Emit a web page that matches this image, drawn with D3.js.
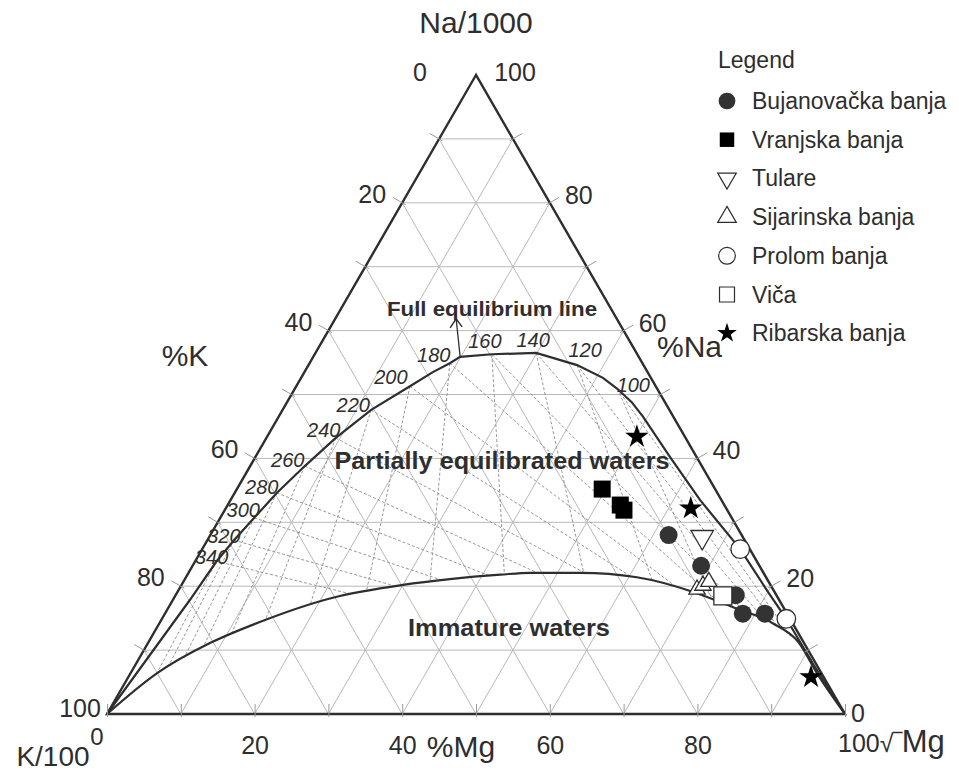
<!DOCTYPE html>
<html>
<head>
<meta charset="utf-8">
<script src="https://cdn.jsdelivr.net/npm/d3@7"></script>
<style>
    body { margin: 0; background: #fff; }
    svg { display: block; font-family: "Liberation Sans", Arial, sans-serif; }
</style>
</head>
<body>
<svg width="959" height="773"></svg>
<script>
// all points are [Na/1000 %, K/100 %, sqrt(Mg) %]
const fullEquilibrium = [
    [0, 100, 0], [17.8, 79.9, 2.3], [23.9, 73.2, 2.9], [27.2, 69.2, 3.6], [30.7, 64.7, 4.6],
    [34.6, 59.7, 5.7], [38.8, 53.8, 7.4], [43.2, 47.4, 9.4], [47.6, 40.4, 12.0], [51.3, 33.3, 15.4],
    [53.5, 29.1, 17.4], [54.9, 26.1, 19.0], [55.9, 24.2, 19.9], [56.3, 19.7, 24.0], [56.5, 13.6, 29.9],
    [54.6, 9.0, 36.4], [52.6, 6.5, 40.9], [50.9, 5.4, 43.7], [48.8, 4.5, 46.7], [46.5, 4.1, 49.4],
    [40.2, 3.6, 56.2], [33.5, 2.9, 63.6], [25.8, 1.3, 72.9], [19.4, 0.9, 79.7], [14.9, 0.5, 84.6],
    [7.7, 0.4, 91.9], [0, 0, 100]
];
const immature = [
    [0, 100, 0], [6.4, 90.0, 3.6], [11.1, 80.5, 8.4], [14.4, 72.1, 13.5], [18.2, 60.3, 21.5],
    [20.2, 49.8, 30.0], [21.1, 43.0, 35.9], [21.8, 35.8, 42.4], [22.1, 31.6, 46.3], [22.1, 24.8, 53.1],
    [21.4, 17.5, 61.1], [19.1, 11.0, 69.9], [16.7, 6.8, 76.5], [14.2, 2.7, 83.1], [11.3, 0.7, 88.0],
    [6.0, 0.6, 93.4], [0, 0, 100]
];
// temperature (°C) and its point on the full equilibrium line
const isotherms = [
    [100, 50.9, 5.4, 43.7], [120, 54.6, 9.0, 36.4], [140, 56.5, 13.6, 29.9], [160, 56.3, 19.7, 24.0],
    [180, 54.9, 26.1, 19.0], [200, 51.3, 33.3, 15.4], [220, 47.6, 40.4, 12.0], [240, 43.2, 47.4, 9.4],
    [260, 38.8, 53.8, 7.4], [280, 34.6, 59.7, 5.7], [300, 30.7, 64.7, 4.6], [320, 27.2, 69.2, 3.6],
    [340, 23.9, 73.2, 2.9]
];

const bujanovacka = [[28.0, 9.9, 62.1], [23.2, 7.9, 68.9], [18.6, 5.5, 75.9], [15.7, 6.0, 78.3], [15.7, 3.0, 81.3]];
const vranjska = [[35.2, 15.3, 49.5], [32.7, 14.1, 53.2], [31.9, 14.0, 54.1]];
const tulare = [[27.7, 5.5, 66.8]];
const sijarinska = [[19.5, 10.3, 70.2], [20.1, 9.2, 70.7], [20.7, 8.1, 71.2]];
const prolom = [[25.8, 1.3, 72.9], [14.9, 0.5, 84.6]];
const vica = [[18.5, 7.3, 74.2]];
const ribarska = [[43.4, 6.5, 50.1], [32.2, 4.8, 63.0], [5.8, 1.7, 92.5]];

const legendNames = ['Bujanovačka banja', 'Vranjska banja', 'Tulare', 'Sijarinska banja', 'Prolom banja', 'Viča', 'Ribarska banja'];
const kTicks = [0, 20, 40, 60, 80, 100];
const naTicks = [100, 80, 60, 40, 20, 0];
const mgTicks = [20, 40, 60, 80];

const svg = d3.select('svg');
const ink = '#2e2e2e';

const mgScale = d3.scaleLinear().domain([0, 100]).range([107, 845]);
const naScale = d3.scaleLinear().domain([0, 100]).range([714, 75]);
const project = d => [mgScale(d[2] + d[0] / 2), naScale(d[0])];

const apex = project([100, 0, 0]);
const kCorner = project([0, 100, 0]);
const mgCorner = project([0, 0, 100]);

const g = svg.append('g');

// grid every 10 %
const steps = d3.range(10, 100, 10);
const gridLines = [];
steps.forEach(v => {
    gridLines.push([[v, 100 - v, 0], [v, 0, 100 - v]]);
    gridLines.push([[0, 100 - v, v], [100 - v, 0, v]]);
    gridLines.push([[100 - v, v, 0], [0, v, 100 - v]]);
});
g.selectAll('line.grid')
    .data(gridLines)
    .enter().append('line')
    .attr('x1', d => project(d[0])[0]).attr('y1', d => project(d[0])[1])
    .attr('x2', d => project(d[1])[0]).attr('y2', d => project(d[1])[1])
    .attr('stroke', '#b8b8b8')
    .attr('stroke-width', 1);

// isotherm dashes, ending on the immature line
const immaturePx = immature.map(project);
const firstHit = (p, q, poly) => {
    let best = 1, hit = q;
    for (let i = 0; i < poly.length - 1; i++) {
        const a = poly[i], b = poly[i + 1];
        const rx = q[0] - p[0], ry = q[1] - p[1], sx = b[0] - a[0], sy = b[1] - a[1];
        const den = rx * sy - ry * sx;
        if (Math.abs(den) < 1e-9) continue;
        const t = ((a[0] - p[0]) * sy - (a[1] - p[1]) * sx) / den;
        const u = ((a[0] - p[0]) * ry - (a[1] - p[1]) * rx) / den;
        if (t > 1e-3 && t <= best && u >= 0 && u <= 1) {
            best = t;
            hit = [p[0] + t * rx, p[1] + t * ry];
        }
    }
    return hit;
};
const dashes = [];
isotherms.forEach(d => {
    const p = project(d.slice(1));
    dashes.push([p, firstHit(p, mgCorner, immaturePx)]);
    const far = [p[0] + (p[0] - apex[0]) * 3, p[1] + (p[1] - apex[1]) * 3];
    dashes.push([p, firstHit(p, far, immaturePx)]);
});
g.selectAll('line.dash')
    .data(dashes)
    .enter().append('line')
    .attr('x1', d => d[0][0]).attr('y1', d => d[0][1])
    .attr('x2', d => d[1][0]).attr('y2', d => d[1][1])
    .attr('stroke', '#8c8c8c')
    .attr('stroke-width', 0.9)
    .attr('stroke-dasharray', '3,2');

// curves
g.append('path')
    .attr('d', d3.line().curve(d3.curveMonotoneX)(immaturePx))
    .attr('fill', 'none').attr('stroke', ink).attr('stroke-width', 2.2);
g.append('path')
    .attr('d', d3.line()(fullEquilibrium.map(project)))
    .attr('fill', 'none').attr('stroke', ink).attr('stroke-width', 2.2);

// triangle
g.append('path')
    .attr('d', d3.line()([apex, kCorner, mgCorner]) + 'Z')
    .attr('fill', 'none').attr('stroke', ink).attr('stroke-width', 2.4)
    .attr('stroke-linejoin', 'miter');

// side ticks
const sideTicks = [];
steps.forEach(v => {
    sideTicks.push({ p: project([100 - v, v, 0]), n: [-0.866, -0.5] });
    sideTicks.push({ p: project([v, 0, 100 - v]), n: [0.866, -0.5] });
});
g.selectAll('line.tick')
    .data(sideTicks)
    .enter().append('line')
    .attr('x1', d => d.p[0] + d.n[0] * 11).attr('y1', d => d.p[1] + d.n[1] * 11)
    .attr('x2', d => d.p[0] - d.n[0] * 4).attr('y2', d => d.p[1] - d.n[1] * 4)
    .attr('stroke', '#999').attr('stroke-width', 1);

// bottom axis
const xAxis = d3.axisBottom(mgScale)
    .tickValues(d3.range(0, 101, 10))
    .tickFormat(d => mgTicks.includes(d) ? d : '')
    .tickSizeInner(-13)
    .tickSizeOuter(0)
    .tickPadding(19);
const xAxisG = g.append('g')
    .attr('transform', `translate(0, ${kCorner[1] + 3})`)
    .call(xAxis);
xAxisG.select('.domain').remove();
xAxisG.selectAll('.tick line').attr('stroke', '#999');
xAxisG.selectAll('.tick text')
    .attr('fill', ink)
    .style('font-size', '25px')
    .style('font-family', '"Liberation Sans", Arial, sans-serif');

const label = (x, y, text, size, anchor = 'middle') =>
    svg.append('text').attr('x', x).attr('y', y).attr('text-anchor', anchor)
        .attr('fill', ink).style('font-size', size + 'px').text(text);

// %K labels on the left side
kTicks.forEach(k => {
    const p = project([100 - k, k, 0]);
    const off = k === 0 ? [-56, 6] : k === 100 ? [-27, 3] : [-30, 0];
    label(p[0] + off[0], p[1] + off[1], k, 25);
});
// %Na labels on the right side
naTicks.forEach(n => {
    const p = project([n, 0, 100 - n]);
    const off = n === 100 ? [39, 6] : n === 0 ? [13, 8] : [29, 1];
    label(p[0] + off[0], p[1] + off[1], n, 25);
});
label(97, 745, '0', 24);

label(476, 33, 'Na/1000', 30);
label(185, 366, '%K', 30);
label(657, 357, '%Na', 30, 'start');
label(461, 757, '%Mg', 30);
label(53, 766, 'K/100', 28);
const mgLabel = svg.append('text').attr('x', 838).attr('y', 752).attr('fill', ink);
mgLabel.append('tspan').style('font-size', '25px').text('100√‾');
mgLabel.append('tspan').style('font-size', '31px').text('Mg');

// temperature labels
const tempLabelShift = {
    100: [16, -4], 120: [8, -15], 140: [-3, -13], 160: [-7, -13], 180: [-16, -8],
    200: [-19, -9], 220: [-18, -5], 240: [-12, -8], 260: [-17, -6], 280: [-15, -6],
    300: [-11, -8], 320: [-10, -4], 340: [-5, -4]
};
svg.selectAll('text.temp')
    .data(isotherms)
    .enter().append('text')
    .attr('x', d => project(d.slice(1))[0] + tempLabelShift[d[0]][0])
    .attr('y', d => project(d.slice(1))[1] + tempLabelShift[d[0]][1] + 7)
    .attr('text-anchor', 'middle')
    .attr('fill', ink)
    .style('font-size', '20px')
    .style('font-style', 'italic')
    .text(d => d[0]);

// region labels
const boldLabel = (x, y, text, size, len) =>
    svg.append('text').attr('x', x).attr('y', y).attr('text-anchor', 'middle')
        .attr('fill', ink).style('font-size', size + 'px').style('font-weight', 'bold')
        .attr('textLength', len).attr('lengthAdjust', 'spacingAndGlyphs').text(text);
boldLabel(492, 316, 'Full equilibrium line', 21, 210);
boldLabel(502, 469, 'Partially equilibrated waters', 23, 335);
boldLabel(509, 636, 'Immature waters', 23, 202);

// arrow to the full equilibrium line
const arrowFrom = project(fullEquilibrium[12]);
const arrowTo = [arrowFrom[0] - 4, arrowFrom[1] - 38];
svg.append('line')
    .attr('x1', arrowFrom[0]).attr('y1', arrowFrom[1])
    .attr('x2', arrowTo[0]).attr('y2', arrowTo[1])
    .attr('stroke', ink).attr('stroke-width', 1.3);
svg.append('path')
    .attr('d', d3.line()([[arrowTo[0] - 6, arrowTo[1] + 9], arrowTo, [arrowTo[0] + 6, arrowTo[1] + 8]]))
    .attr('fill', 'none').attr('stroke', ink).attr('stroke-width', 1.4);

// samples
const series = [
    { data: bujanovacka, type: d3.symbolCircle, size: 254, legendSize: 220, fill: '#333', stroke: 'none', rotate: 0 },
    { data: vranjska, type: d3.symbolSquare, size: 289, legendSize: 210, fill: '#000', stroke: 'none', rotate: 0 },
    { data: tulare, type: d3.symbolTriangle, size: 220, legendSize: 150, fill: '#fff', stroke: ink, rotate: 180 },
    { data: sijarinska, type: d3.symbolTriangle, size: 115, legendSize: 150, fill: '#fff', stroke: ink, rotate: 0 },
    { data: prolom, type: d3.symbolCircle, size: 270, legendSize: 220, fill: '#fff', stroke: ink, rotate: 0 },
    { data: vica, type: d3.symbolSquare, size: 324, legendSize: 225, fill: '#fff', stroke: ink, rotate: 0 },
    { data: ribarska, type: d3.symbolStar, size: 170, legendSize: 120, fill: '#000', stroke: 'none', rotate: 0 }
];
const drawOrder = [0, 1, 2, 4, 3, 5, 6];
drawOrder.forEach(i => {
    const s = series[i];
    svg.append('g').selectAll('path')
        .data(s.data)
        .enter().append('path')
        .attr('d', d3.symbol().type(s.type).size(s.size))
        .attr('transform', d => `translate(${project(d)}) rotate(${s.rotate})`)
        .attr('fill', s.fill)
        .attr('stroke', s.stroke)
        .attr('stroke-width', 1.3);
});

// legend
const legend = svg.append('g');
legend.append('text').attr('x', 718).attr('y', 68).attr('fill', ink)
    .style('font-size', '23px').text('Legend');
const items = legend.selectAll('g.item')
    .data(series)
    .enter().append('g')
    .attr('transform', (d, i) => `translate(727, ${101 + i * 38.7})`);
items.append('path')
    .attr('d', d => d3.symbol().type(d.type).size(d.legendSize)())
    .attr('transform', d => `rotate(${d.rotate})`)
    .attr('fill', d => d.fill)
    .attr('stroke', d => d.stroke)
    .attr('stroke-width', 1.2);
items.append('text')
    .attr('x', 25).attr('y', 8)
    .attr('fill', ink)
    .style('font-size', '23px')
    .text((d, i) => legendNames[i]);
</script>
</body>
</html>
